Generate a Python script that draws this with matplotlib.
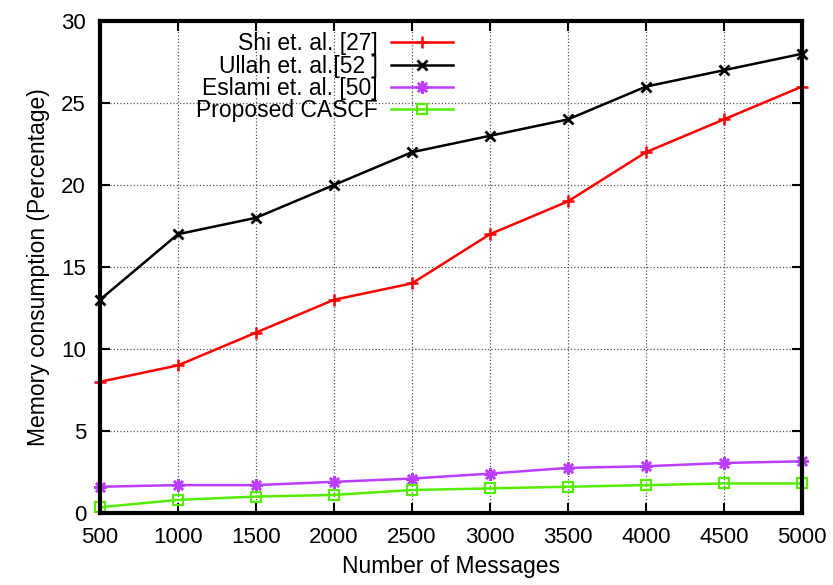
import matplotlib
matplotlib.use("Agg")
import matplotlib.pyplot as plt

plt.rcParams['font.family'] = ['Liberation Sans', 'DejaVu Sans']

messages = [500, 1000, 1500, 2000, 2500, 3000, 3500, 4000, 4500, 5000]
shi = [8, 9, 11, 13, 14, 17, 19, 22, 24, 26]
ullah = [13, 17, 18, 20, 22, 23, 24, 26, 27, 28]
eslami = [1.6, 1.7, 1.7, 1.9, 2.1, 2.4, 2.75, 2.85, 3.05, 3.15]
proposed = [0.35, 0.8, 1.0, 1.1, 1.4, 1.5, 1.6, 1.7, 1.8, 1.8]

labels = ["Shi et. al. [27]", "Ullah et. al.[52 ]", "Eslami et. al. [50]", "Proposed CASCF"]

fig = plt.figure(figsize=(8.33, 5.85), dpi=100)
ax = fig.add_axes([0.12, 0.1231, 0.8427, 0.841])

lw = 1.8
ax.plot(messages, shi, color='#ff0000', lw=lw, marker='+', ms=9, mew=1.8, label=labels[0], clip_on=False)
ax.plot(messages, ullah, color='#000000', lw=lw, marker='x', ms=7, mew=2, label=labels[1], clip_on=False)
ax.plot(messages, eslami, color='#bb3dff', lw=lw, marker=(8, 2, 0), ms=9, mew=1.8, label=labels[2], clip_on=False)
ax.plot(messages, proposed, color='#55ee00', lw=lw, marker='s', ms=7, mew=1.6, mfc='none', label=labels[3], clip_on=False)

ax.set_xlim(500, 5000)
ax.set_ylim(0, 30)
ax.set_xticks(messages)
ax.set_yticks(range(0, 31, 5))
ax.grid(True, linestyle=':', color='#555555', lw=0.9)
ax.tick_params(direction='in', length=7, width=1.5, top=True, right=True, labelsize=16, pad=10)
for s in ax.spines.values():
    s.set_linewidth(3)
    s.set_zorder(5)

ax.set_xlabel("Number of Messages", fontsize=16.5, labelpad=5)
ax.set_ylabel("Memory consumption (Percentage)", fontsize=16.5, labelpad=8)

leg = ax.legend(loc='upper left', bbox_to_anchor=(0.12, 1.0), frameon=False, markerfirst=False,
                fontsize=16.5, handlelength=2.7, labelspacing=-0.04, handletextpad=0.6, borderaxespad=0.1)

fig.savefig("out.png", dpi=100)
